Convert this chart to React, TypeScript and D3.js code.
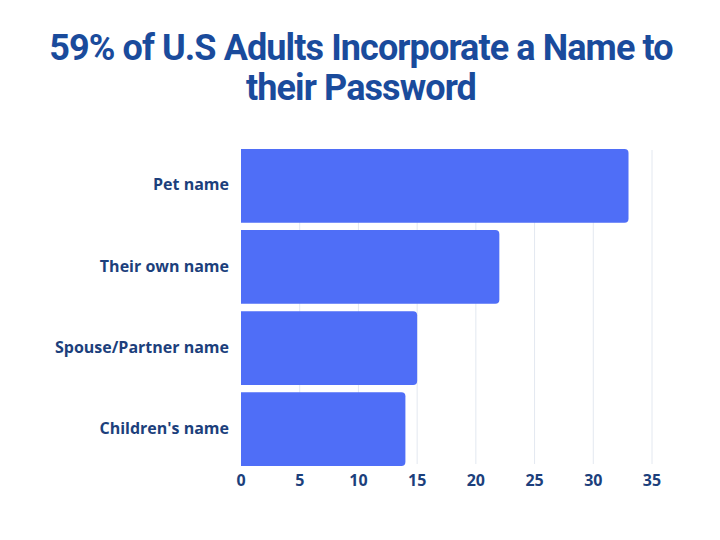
import { useEffect, useRef } from 'react';
import * as d3 from 'd3';

const categories = ['Pet name', 'Their own name', 'Spouse/Partner name', "Children's name"];
const values = [33, 22, 15, 14];
const xTicks = [0, 5, 10, 15, 20, 25, 30, 35];
const titleLines = ['59% of U.S Adults Incorporate a Name to', 'their Password'];

export default function App() {
	const svgRef = useRef<SVGSVGElement>(null);

	useEffect(() => {
		if (!svgRef.current) return;
		const width = 720;
		const height = 540;
		const svg = d3.select(svgRef.current);
		svg.selectAll('*').remove();
		svg.attr('width', width).attr('height', height);

		svg.append('rect').attr('width', width).attr('height', height).attr('fill', '#ffffff');

		const navy = '#1c3f7c';
		const barColor = '#4f6ef7';

		// Title
		svg
			.append('g')
			.selectAll('text')
			.data(titleLines)
			.join('text')
			.attr('x', 361)
			.attr('y', (_, i) => 60 + i * 40)
			.attr('text-anchor', 'middle')
			.attr('font-family', "'Roboto', sans-serif")
			.attr('font-weight', 700)
			.attr('font-size', 36)
			.attr('letter-spacing', -0.9)
			.attr('fill', '#1a4b9c')
			.text((d) => d);

		const x = d3.scaleLinear().domain([0, 35]).range([241, 652]);
		const y = d3.scaleBand().domain(categories).range([149, 466]).paddingInner(0.09).paddingOuter(0);

		// Grid lines
		svg
			.append('g')
			.selectAll('line')
			.data(xTicks.slice(1))
			.join('line')
			.attr('x1', (d) => x(d))
			.attr('x2', (d) => x(d))
			.attr('y1', 150)
			.attr('y2', 464)
			.attr('stroke', '#e3e8f0')
			.attr('stroke-width', 1);

		// Bars with rounded right corners
		const r = 4;
		svg
			.append('g')
			.selectAll('path')
			.data(values)
			.join('path')
			.attr('fill', barColor)
			.attr('d', (d, i) => {
				const x0 = x(0);
				const x1 = x(d);
				const y0 = y(categories[i])!;
				const y1 = y0 + y.bandwidth();
				return `M${x0},${y0}H${x1 - r}Q${x1},${y0} ${x1},${y0 + r}V${y1 - r}Q${x1},${y1} ${x1 - r},${y1}H${x0}Z`;
			});

		// Category labels
		svg
			.append('g')
			.selectAll('text')
			.data(categories)
			.join('text')
			.attr('x', 229)
			.attr('y', (d) => y(d)! + y.bandwidth() / 2 - 1)
			.attr('dy', '0.35em')
			.attr('text-anchor', 'end')
			.attr('font-family', "'Open Sans', sans-serif")
			.attr('font-weight', 700)
			.attr('font-size', 16)
			.attr('fill', navy)
			.text((d) => d);

		// X tick labels
		svg
			.append('g')
			.selectAll('text')
			.data(xTicks)
			.join('text')
			.attr('x', (d) => x(d))
			.attr('y', 486)
			.attr('text-anchor', 'middle')
			.attr('font-family', "'Open Sans', sans-serif")
			.attr('font-weight', 700)
			.attr('font-size', 16)
			.attr('fill', navy)
			.text((d) => String(d));
	}, []);

	return <svg ref={svgRef} style={{ position: 'absolute', left: 0, top: 0, display: 'block' }}></svg>;
}
